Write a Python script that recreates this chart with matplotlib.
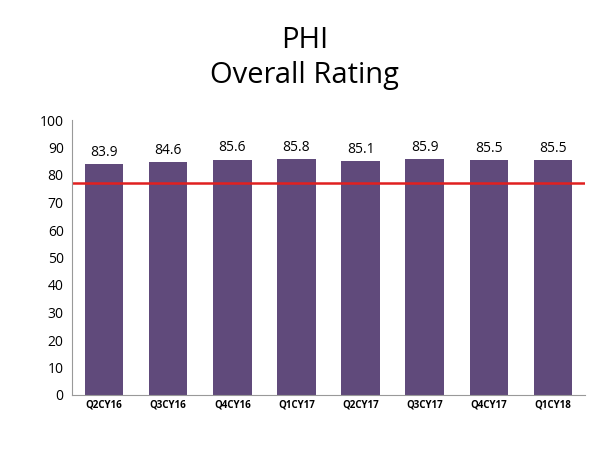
import matplotlib
matplotlib.use("Agg")
import matplotlib.pyplot as plt

quarters = ["Q2CY16", "Q3CY16", "Q4CY16", "Q1CY17", "Q2CY17", "Q3CY17", "Q4CY17", "Q1CY18"]
ratings = [83.9, 84.6, 85.6, 85.8, 85.1, 85.9, 85.5, 85.5]
target = 77.1

plt.rcParams["font.family"] = "Open Sans"
fig = plt.figure(figsize=(6.10, 4.51), dpi=100, facecolor="white")
ax = fig.add_axes([72 / 610, 1 - 395 / 451, 513 / 610, 275 / 451])

x = range(len(quarters))
ax.bar(x, ratings, width=0.6, color="#604A7B")
for xi, v in zip(x, ratings):
    ax.text(xi, v + 1.5, f"{v:.1f}", ha="center", va="bottom", fontsize=10)
ax.axhline(target, color="#E02020", linewidth=1.8)

ax.set_xlim(-0.5, len(quarters) - 0.5)
ax.set_ylim(0, 100)
ax.set_yticks(range(0, 101, 10))
ax.set_xticks(list(x), quarters, fontsize=7, fontweight="bold")
ax.tick_params(axis="y", labelsize=10, length=0, pad=6)
ax.tick_params(axis="x", length=0)
for s in ["top", "right"]:
    ax.spines[s].set_visible(False)
ax.spines["left"].set_color("#999999")
ax.spines["bottom"].set_color("#999999")

fig.text(0.5, 1 - 40 / 451, "PHI", ha="center", va="center", fontsize=21)
fig.text(0.5, 1 - 76 / 451, "Overall Rating", ha="center", va="center", fontsize=21)

fig.savefig("out.png", dpi=100, facecolor="white")
